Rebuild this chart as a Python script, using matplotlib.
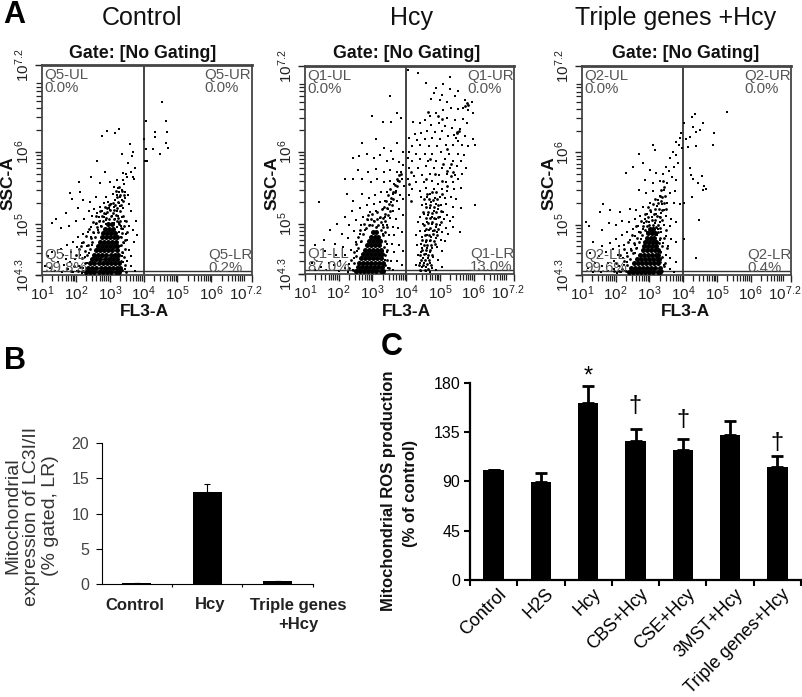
import matplotlib
matplotlib.use("Agg")
import matplotlib.pyplot as plt
import matplotlib.transforms as mtrans
import numpy as np

plt.rcParams['font.family'] = ['Liberation Sans', 'DejaVu Sans']
plt.rcParams['mathtext.default'] = 'regular'

W = 803
H = 697

# all scatter values are log10 (FL3-A, SSC-A)
# solid black part of each cloud, one row of x values per y value
ctrl_core_y = [4.34, 4.40, 4.46, 4.52, 4.58, 4.64, 4.70, 4.76, 4.82, 4.88, 4.94, 5.00]
ctrl_core_x = [[2.30,2.42,2.55,2.68,2.80,2.93,3.05,3.18,3.28],[2.36,2.48,2.60,2.73,2.86,2.98,3.10,3.22,3.30],
               [2.42,2.55,2.67,2.80,2.92,3.05,3.17,3.27],[2.47,2.60,2.72,2.85,2.97,3.10,3.22],
               [2.53,2.65,2.78,2.90,3.03,3.15,3.25],[2.60,2.72,2.84,2.96,3.08,3.20],
               [2.66,2.78,2.90,3.02,3.14,3.22],[2.72,2.84,2.96,3.08,3.18],[2.76,2.88,3.00,3.12,3.20],
               [2.80,2.92,3.04,3.16],[2.86,2.98,3.10],[2.94,3.06]]
hcy_core_y = [4.34, 4.40, 4.46, 4.52, 4.58, 4.64, 4.70, 4.76, 4.82, 4.88]
hcy_core_x = [[2.52,2.64,2.76,2.88,3.00,3.12,3.24,3.32],[2.56,2.68,2.80,2.92,3.04,3.16,3.28],
              [2.60,2.72,2.84,2.96,3.08,3.20,3.30],[2.66,2.78,2.90,3.02,3.14,3.26],
              [2.72,2.84,2.96,3.08,3.20,3.28],[2.78,2.90,3.02,3.14,3.24],[2.84,2.96,3.08,3.20],
              [2.90,3.02,3.14,3.22],[2.96,3.08,3.18],[3.02,3.12]]
tri_core_y = [4.34, 4.40, 4.46, 4.52, 4.58, 4.64, 4.70, 4.76, 4.82, 4.88, 4.94]
tri_core_x = [[2.40,2.52,2.64,2.76,2.88,3.00,3.12,3.24,3.32],[2.46,2.58,2.70,2.82,2.94,3.06,3.18,3.30],
              [2.54,2.66,2.78,2.90,3.02,3.14,3.26],[2.62,2.74,2.86,2.98,3.10,3.22,3.28],
              [2.72,2.84,2.96,3.08,3.20,3.26],[2.80,2.92,3.04,3.16,3.24],[2.84,2.96,3.08,3.20],
              [2.88,3.00,3.12,3.20],[2.92,3.04,3.14],[2.96,3.08,3.16],[3.02,3.12]]

# semi dense halo around the black part
ctrl_mid = [(2.22,4.35),(2.12,4.41),(2.26,4.47),(2.18,4.53),(2.33,4.57),(2.27,4.63),(2.41,4.66),(2.36,4.72),
            (2.49,4.75),(2.44,4.81),(2.57,4.83),(2.52,4.90),(2.66,4.89),(2.61,4.96),(2.73,4.98),(2.69,5.05),
            (2.81,5.04),(2.76,5.11),(2.88,5.09),(2.84,5.15),(2.97,5.08),(2.93,5.17),(3.05,5.12),(3.01,5.20),
            (3.13,5.07),(3.10,5.16),(3.20,5.04),(3.18,5.13),(3.27,5.00),(3.25,5.09),(3.33,4.95),(3.31,5.05),
            (3.38,5.12),(3.36,4.88),(3.42,4.98),(3.33,4.82),(3.40,4.76),(3.32,4.71),(3.44,4.66),(3.36,4.62),
            (3.41,4.55),(3.34,4.50),(3.44,4.44),(3.37,4.37),(3.48,4.34),(3.22,5.22),(3.29,5.18),(3.16,5.27),
            (3.24,5.31),(3.33,5.27),(3.40,5.32),(3.30,5.40),(3.20,5.38),(3.36,5.46),(3.43,5.40),(3.27,5.52),
            (3.09,5.30),(2.98,5.27),(2.86,5.24),(2.72,5.19),(2.60,5.12),(2.50,5.03),(2.40,4.93),(2.30,4.84),
            (2.20,4.76),(2.08,4.66),(2.00,4.57),(1.94,4.43),(2.05,4.35),(1.86,4.36),(2.60,5.02),(2.92,5.23),
            (3.14,5.20),(3.02,5.28),(3.18,5.46),(3.48,5.05),(3.50,4.90),(3.46,4.78),(2.14,4.70),(2.34,4.40)]
hcy_mid = [(2.42,4.35),(2.30,4.38),(2.44,4.45),(2.36,4.50),(2.52,4.55),(2.44,4.61),(2.58,4.66),(2.50,4.72),
           (2.66,4.76),(2.58,4.82),(2.72,4.86),(2.64,4.92),(2.80,4.94),(2.74,5.00),(2.90,4.98),(2.84,5.06),
           (3.00,4.98),(2.96,5.06),(3.10,4.96),(3.06,5.04),(3.18,4.98),(3.14,5.06),(3.26,4.92),(3.24,5.02),
           (3.32,4.84),(3.30,4.96),(3.36,4.76),(3.38,4.88),(3.34,4.68),(3.42,4.64),(3.36,4.56),(3.44,4.50),
           (3.38,4.42),(3.48,4.38),(3.22,5.10),(3.30,5.08),(3.38,5.04),(3.44,4.96),(3.36,5.14),(3.46,5.12),
           (3.42,5.22),(3.52,5.18),(3.48,5.28),(3.58,5.26),(3.54,5.36),(3.62,5.34),(3.60,5.44),(3.68,5.44),
           (3.66,5.54),(3.74,5.52),(3.72,5.62),(3.80,5.60),(3.78,5.68),(3.86,5.70),(3.40,5.32),(3.34,5.24),
           (3.46,5.40),(3.52,5.48),(3.28,5.20),(3.14,5.16),(3.00,5.14),(2.88,5.12),(4.42,4.35),(4.55,4.36),
           (4.64,4.37),(4.38,4.42),(4.50,4.43),(4.62,4.44),(4.74,4.42),(4.44,4.50),(4.56,4.50),(4.68,4.50),
           (4.42,4.57),(4.53,4.58),(4.66,4.57),(4.78,4.56),(4.48,4.64),(4.60,4.64),(4.72,4.63),(4.52,4.70),
           (4.63,4.71),(4.75,4.70),(4.86,4.72),(4.48,4.77),(4.60,4.78),(4.72,4.78),(4.84,4.76),(4.56,4.85),
           (4.68,4.85),(4.80,4.86),(4.92,4.84),(4.60,4.93),(4.72,4.94),(4.84,4.92),(4.96,4.93),(4.52,4.98),
           (4.66,5.01),(4.78,5.02),(4.90,5.00),(5.02,5.02),(4.58,5.08),(4.72,5.08),(4.84,5.08),(4.96,5.10),
           (4.50,5.16),(4.64,5.16),(4.76,5.15),(4.88,5.16),(5.04,5.18),(4.58,5.24),(4.72,5.26),(4.84,5.24),
           (4.96,5.26),(4.54,5.34),(4.68,5.34),(4.80,5.33),(4.92,5.34),(4.62,5.42),(4.76,5.44),(4.90,5.44),
           (5.06,5.42),(5.20,5.52),(5.05,5.60),(5.32,5.66),(5.22,5.74),(5.40,5.72),(5.34,5.84),(4.60,5.62),
           (4.85,5.70),(5.10,5.84),(4.72,5.90),(5.22,6.04),(5.52,6.28),(5.58,6.30),(5.50,6.26),(4.95,6.50),
           (5.05,6.46),(4.65,6.56),(5.75,6.64),(5.85,6.66),(5.80,6.68),(4.15,5.72),(4.08,5.56),(4.14,5.32)]
tri_mid = [(2.30,4.35),(2.20,4.39),(2.34,4.44),(2.26,4.49),(2.42,4.52),(2.34,4.57),(2.50,4.60),(2.44,4.65),
           (2.60,4.68),(2.54,4.74),(2.70,4.76),(2.64,4.82),(2.78,4.85),(2.72,4.90),(2.86,4.92),(2.80,4.98),
           (2.92,4.98),(2.90,5.05),(3.00,5.00),(2.96,5.10),(3.12,5.00),(3.08,5.07),(3.20,4.97),(3.17,5.06),
           (3.26,4.90),(3.25,5.00),(3.30,4.82),(3.32,4.95),(3.28,4.74),(3.36,4.70),(3.30,4.62),(3.38,4.55),
           (3.32,4.48),(3.42,4.42),(3.36,4.35),(3.46,4.47),(3.14,5.14),(3.22,5.12),(3.30,5.10),(3.38,5.06),
           (3.18,5.22),(3.28,5.22),(3.38,5.20),(3.24,5.30),(3.34,5.32),(3.42,5.30),(3.30,5.40),(3.38,5.38),
           (3.46,5.40),(3.34,5.48),(3.44,5.52),(3.40,5.60),(3.02,5.20),(2.88,5.15),(2.74,5.05),(2.60,4.98),
           (2.48,4.86),(2.36,4.76),(2.24,4.66),(2.14,4.58),(2.02,4.46),(1.96,4.36),(2.10,4.36),(3.48,4.92),
           (3.52,4.68),(3.44,4.82),(3.18,5.36),(3.10,5.28),(2.96,5.24),(3.50,5.22)]

ctrl_dots = [(4.55,6.69),(4.06,6.43),(4.65,6.43),(4.35,6.27),(4.69,6.28),(4.35,6.20),(4.00,6.18),(4.06,6.04),
             (4.28,6.04),(4.48,5.97),(4.73,6.05),(4.65,6.12),(4.09,5.87),(4.03,5.87),(2.93,6.29),(3.26,6.31),
             (3.15,6.26),(2.76,6.22),(3.60,6.11),(2.61,5.88),(3.65,5.94),(3.37,5.97),(3.69,6.00),(3.55,5.85),
             (3.62,5.72),(3.75,5.78),(3.48,5.70),(3.68,5.66),(2.85,5.72),(3.72,5.62),(2.10,5.59),(2.46,5.65),
             (1.83,5.43),(2.12,5.45),(1.88,5.35),(2.71,5.57),(3.00,5.59),(3.20,5.61),(3.40,5.71),(3.50,5.66),
             (3.25,5.50),(3.35,5.48),(3.55,5.41),(3.30,5.38),(3.15,5.34),(2.90,5.38),(2.60,5.38),(2.42,5.31),
             (2.22,5.34),(3.42,5.55),(3.38,5.61),(3.28,5.44),(3.22,5.40),(3.36,5.33),(3.46,5.36),(3.10,5.42),
             (3.05,5.28),(2.95,5.31),(2.82,5.29),(2.72,5.24),(2.55,5.21),(2.38,5.19),(2.05,5.22),(1.72,5.15),
             (1.40,5.08),(1.30,5.02),(1.55,4.95),(1.80,4.98),(2.00,5.05),(2.25,5.08),(2.48,5.12),(2.62,5.15),
             (2.78,5.18),(2.90,5.14),(3.02,5.20),(3.12,5.24),(3.22,5.18),(3.30,5.25),(3.40,5.22),(3.62,5.18),
             (3.78,5.05),(3.70,4.92),(3.80,4.85),(3.72,4.76),(3.58,4.98),(3.44,5.05),(3.35,5.10),(3.28,5.02),
             (3.38,4.94),(3.48,4.86),(3.34,4.82),(3.42,4.74),(3.56,4.64),(3.40,4.60),(3.50,4.50),(3.62,4.42),
             (3.46,4.38),(3.38,4.48),(3.75,4.36),(2.70,5.04),(2.58,5.00),(2.46,4.96),(2.36,4.90),(2.22,4.86),
             (2.06,4.82),(1.92,4.76),(1.74,4.72),(1.55,4.66),(1.30,4.62),(1.18,4.56),(1.62,4.58),(1.85,4.62),
             (2.02,4.68),(2.18,4.74),(2.32,4.70),(2.44,4.82),(2.55,4.88),(2.64,4.92),(2.74,4.97),(2.48,4.72),
             (2.38,4.60),(2.26,4.55),(2.12,4.58),(1.98,4.52),(1.82,4.48),(1.66,4.44),(1.48,4.48),(1.25,4.40),
             (1.10,4.42),(1.38,4.36),(1.58,4.34),(1.76,4.38),(1.92,4.34),(2.08,4.42),(2.22,4.40),(2.34,4.46),
             (2.04,4.36),(2.18,4.33),(2.30,4.35),(1.70,4.52),(2.90,5.06),(3.06,5.12),(2.98,5.22),(3.16,5.08),
             (3.24,5.12),(2.82,5.10),(2.68,5.10),(3.32,4.98),(3.26,4.90),(2.88,5.00),(3.14,5.02),(3.20,4.96),
             (3.52,4.78),(3.64,4.56),(3.30,4.70),(3.36,4.56),(3.58,5.28),(3.26,5.30),(3.12,5.52),(3.44,5.44)]

hcy_dots = [(4.05,7.15),(4.35,7.10),(5.30,7.05),(4.60,6.96),(5.10,6.95),(4.90,6.90),(5.30,6.88),(5.55,6.85),
            (4.82,6.82),(5.05,6.80),(5.45,6.78),(4.75,6.74),(5.00,6.72),(5.20,6.70),(5.75,6.72),(5.95,6.70),
            (5.70,6.62),(5.85,6.58),(5.55,6.60),(5.32,6.62),(5.10,6.58),(4.90,6.55),(4.70,6.50),(5.20,6.48),
            (5.45,6.45),(5.68,6.46),(5.98,6.55),(5.82,6.40),(4.55,6.45),(4.40,6.40),(4.20,6.42),(4.75,6.38),
            (4.98,6.40),(5.15,6.36),(5.35,6.34),(5.60,6.32),(5.05,6.30),(4.85,6.28),(4.62,6.30),(4.45,6.26),
            (4.25,6.25),(4.10,6.20),(4.32,6.17),(4.55,6.18),(4.78,6.20),(5.00,6.18),(5.25,6.22),(5.42,6.24),
            (5.48,6.20),(5.55,6.16),(5.75,6.22),(5.98,6.18),(6.05,6.10),(5.85,6.08),(5.65,6.10),(5.40,6.10),
            (5.18,6.10),(4.92,6.08),(4.68,6.08),(4.42,6.10),(4.18,6.08),(4.08,6.00),(4.30,5.98),(4.55,5.98),
            (4.78,5.98),(5.02,6.00),(5.28,5.98),(5.55,5.98),(5.72,5.96),(5.62,5.88),(5.40,5.88),(5.15,5.90),
            (4.90,5.88),(4.65,5.88),(4.40,5.90),(4.18,5.88),(4.05,5.92),(4.10,5.78),(4.35,5.78),(4.58,5.80),
            (4.82,5.78),(5.05,5.78),(5.30,5.78),(5.50,5.80),(5.78,5.78),(5.65,5.70),(5.45,5.68),(5.22,5.70),
            (4.98,5.68),(4.72,5.70),(4.48,5.68),(4.22,5.66),(4.06,5.62),(4.30,5.58),(4.52,5.58),(4.76,5.60),
            (4.95,5.56),(5.18,5.58),(5.38,5.58),(5.55,5.62),(5.62,5.50),(5.42,5.48),(5.22,5.46),(5.05,5.48),
            (4.82,5.48),(4.60,5.50),(4.40,5.46),(4.18,5.48),(4.10,5.40),(4.45,5.38),(4.62,5.38),(4.72,5.42),
            (4.85,5.36),(5.00,5.38),(5.15,5.36),(5.32,5.38),(5.48,5.34),(6.05,5.26),(5.62,5.22),(5.38,5.24),
            (5.18,5.28),(5.02,5.26),(4.88,5.28),(4.75,5.30),(4.60,5.28),(4.48,5.26),(4.70,5.22),(4.82,5.18),
            (4.95,5.20),(5.08,5.16),(5.22,5.12),(5.40,5.10),(5.30,5.04),(5.12,5.06),(5.00,5.10),(4.90,5.06),
            (4.78,5.10),(4.66,5.12),(4.52,5.14),(4.40,5.10),(4.34,5.02),(4.50,5.00),(4.62,5.02),(4.76,5.00),
            (4.88,4.96),(5.00,4.98),(5.18,4.94),(5.38,4.96),(5.60,4.88),(5.25,4.86),(5.05,4.88),(4.92,4.88),
            (4.80,4.90),(4.68,4.92),(4.56,4.90),(4.42,4.90),(4.30,4.84),(4.48,4.82),(4.62,4.84),(4.74,4.82),
            (4.88,4.80),(5.02,4.78),(5.15,4.76),(4.70,4.76),(4.58,4.74),(4.44,4.72),(4.32,4.70),(4.48,4.66),
            (4.62,4.66),(4.76,4.66),(4.92,4.68),(5.05,4.62),(4.72,4.60),(4.58,4.58),(4.44,4.60),(4.34,4.56),
            (4.50,4.52),(4.64,4.52),(4.80,4.54),(4.96,4.50),(4.70,4.46),(4.54,4.46),(4.40,4.46),(4.30,4.42),
            (4.46,4.40),(4.60,4.40),(4.76,4.38),(4.44,4.34),(4.58,4.34),(4.90,4.36),(4.72,4.33),(5.05,4.40),
            (3.52,6.78),(3.72,6.55),(3.85,6.48),(2.98,6.50),(3.30,6.42),(3.55,6.42),(2.68,6.12),(3.10,6.18),
            (3.35,6.05),(3.55,6.02),(3.72,6.12),(3.90,6.00),(2.42,5.92),(2.60,5.95),(2.85,5.98),(3.05,5.92),
            (3.22,5.96),(3.42,5.88),(3.60,5.90),(3.78,5.86),(3.92,5.82),(2.58,5.75),(2.88,5.72),(3.10,5.76),
            (3.34,5.72),(3.52,5.75),(3.72,5.72),(3.86,5.72),(2.20,5.62),(2.42,5.62),(2.70,5.62),(2.95,5.58),
            (3.15,5.62),(3.35,5.58),(3.52,5.60),(3.64,5.55),(3.76,5.60),(3.88,5.62),(3.95,5.52),(1.42,5.30),
            (2.25,5.42),(2.42,5.32),(2.70,5.42),(2.90,5.36),(3.08,5.40),(3.25,5.44),(3.42,5.45),(3.60,5.42),
            (3.70,5.46),(3.82,5.40),(3.92,5.34),(3.72,5.32),(3.55,5.30),(3.38,5.32),(3.22,5.30),(3.05,5.28),
            (2.85,5.26),(2.62,5.22),(2.40,5.18),(2.18,5.10),(1.95,5.00),(1.75,4.92),(1.55,4.78),(1.30,4.70),
            (1.60,4.62),(1.90,4.72),(2.10,4.86),(2.30,4.98),(2.50,5.05),(2.72,5.10),(2.92,5.16),(3.12,5.18),
            (3.30,5.20),(3.46,5.20),(3.62,5.18),(3.78,5.20),(3.90,5.12),(3.70,5.06),(3.52,5.08),(3.38,5.10),
            (3.22,5.08),(3.05,5.04),(2.86,5.05),(2.66,4.98),(2.46,4.90),(2.28,4.80),(2.12,4.68),(1.92,4.56),
            (1.72,4.46),(1.48,4.40),(1.22,4.46),(1.30,4.36),(1.62,4.36),(1.85,4.42),(2.05,4.48),(2.20,4.56),
            (2.36,4.64),(2.50,4.74),(2.62,4.86),(2.78,4.92),(2.94,4.98),(3.14,4.96),(3.30,4.98),(3.44,4.98),
            (3.60,4.96),(3.76,4.94),(3.88,4.88),(3.64,4.84),(3.48,4.84),(3.32,4.86),(3.26,4.78),(3.42,4.72),
            (3.58,4.72),(3.78,4.70),(3.92,4.62),(3.64,4.60),(3.44,4.60),(3.32,4.62),(3.38,4.50),(3.54,4.48),
            (3.72,4.48),(3.88,4.42),(3.46,4.38),(3.62,4.36),(2.00,4.34),(2.18,4.38),(2.32,4.44),(2.46,4.52),
            (2.54,4.62),(2.66,4.74),(2.42,4.36),(2.28,4.33)]

tri_dots = [(5.30,6.56),(4.34,6.53),(4.27,6.49),(4.60,6.41),(4.04,6.41),(4.29,6.35),(4.51,6.31),(4.39,6.29),
            (4.93,6.27),(4.19,6.21),(4.09,6.19),(4.88,6.11),(4.39,6.09),(4.14,6.08),(4.19,5.79),(4.24,5.69),
            (4.29,5.63),(4.55,5.67),(4.44,5.58),(4.63,5.54),(4.68,5.49),(4.58,5.48),(4.27,5.38),(4.02,5.30),
            (4.46,5.06),(4.04,4.80),(4.37,4.53),(3.95,6.27),(3.90,6.20),(3.78,6.15),(3.88,6.10),(3.96,6.06),
            (3.10,6.10),(3.18,6.04),(2.70,5.98),(3.70,6.00),(3.62,5.92),(3.78,5.96),(3.85,5.86),(3.50,5.80),
            (3.58,5.74),(3.72,5.80),(3.66,5.66),(3.80,5.62),(2.50,5.80),(2.32,5.72),(2.82,5.85),(3.02,5.76),
            (3.20,5.72),(3.40,5.70),(2.88,5.62),(3.10,5.58),(3.30,5.60),(3.52,5.58),(2.68,5.48),(2.90,5.44),
            (3.12,5.46),(3.30,5.40),(3.42,5.48),(3.60,5.44),(3.75,5.46),(3.90,5.28),(3.72,5.30),(3.52,5.30),
            (3.36,5.28),(3.22,5.26),(3.02,5.30),(2.82,5.25),(2.60,5.20),(2.42,5.22),(2.12,5.18),(1.62,5.28),
            (1.52,5.18),(1.82,5.20),(1.12,5.04),(1.20,4.98),(1.58,4.92),(1.80,5.02),(2.00,5.00),(2.20,5.05),
            (2.40,5.04),(2.56,5.08),(2.72,5.12),(2.92,5.14),(3.06,5.18),(3.20,5.14),(3.34,5.16),(3.48,5.12),
            (3.64,5.08),(3.80,5.04),(3.60,4.98),(3.44,5.00),(3.30,5.04),(3.18,5.02),(2.98,5.04),(2.84,5.02),
            (2.66,4.98),(2.50,4.94),(2.34,4.90),(2.18,4.86),(2.02,4.80),(1.82,4.74),(1.60,4.70),(1.32,4.76),
            (1.24,4.60),(1.50,4.56),(1.70,4.62),(1.92,4.66),(2.10,4.70),(2.26,4.72),(2.42,4.78),(2.56,4.84),
            (2.70,4.90),(2.82,4.94),(3.24,4.94),(3.34,4.90),(3.48,4.84),(3.64,4.80),(3.78,4.76),(3.56,4.70),
            (3.40,4.74),(3.30,4.78),(3.34,4.62),(3.48,4.58),(3.62,4.54),(3.80,4.48),(3.44,4.44),(3.60,4.38),
            (3.38,4.36),(3.72,4.34),(2.58,4.72),(2.46,4.66),(2.34,4.60),(2.22,4.54),(2.08,4.58),(1.94,4.50),
            (1.78,4.46),(1.60,4.42),(1.40,4.46),(1.18,4.40),(1.34,4.34),(1.56,4.34),(1.76,4.36),(1.94,4.38),
            (2.10,4.42),(2.24,4.44),(2.34,4.48),(2.16,4.34),(2.28,4.36),(2.04,4.33),(2.56,4.60),(2.64,4.68),
            (2.76,4.80),(2.92,4.90),(3.22,4.86),(3.30,5.10),(2.86,5.08),(3.08,5.10),(3.44,5.20),(3.26,5.34)]

panel_titles = ["Control", "Hcy", "Triple genes +Hcy"]
quadrant_prefix = ["Q5", "Q1", "Q2"]
quadrant_pct = [["0.0%", "0.0%", "99.8%", "0.2%"],
                ["0.0%", "0.0%", "87.0%", "13.0%"],
                ["0.0%", "0.0%", "99.6%", "0.4%"]]

b_labels = ["Control", "Hcy", "Triple genes\n+Hcy"]
b_values = [0.2, 13.0, 0.4]
b_err = [0.0, 1.2, 0.0]

c_labels = ["Control", "H2S", "Hcy", "CBS+Hcy", "CSE+Hcy", "3MST+Hcy", "Triple genes+Hcy"]
c_values = [100.0, 89.4, 161.8, 126.8, 118.6, 132.6, 103.4]
c_err = [0.5, 7.9, 15.2, 10.9, 10.4, 12.4, 9.4]
c_marks = ["", "", "*", "†", "†", "", "†"]
c_mark_y = [0, 0, 186, 159, 146, 0, 125]


def px_axes(fig, left, top, right, bottom):
    return fig.add_axes([left / W, 1 - bottom / H, (right - left) / W, (bottom - top) / H])


def px_text(fig, x, y, s, **kw):
    kw.setdefault('ha', 'center')
    kw.setdefault('va', 'center')
    fig.text(x / W, 1 - y / H, s, **kw)


def flow_panel(fig, box, core_y, core_x, mid, dots, prefix, pct):
    ax = px_axes(fig, *box)
    ax.set_xscale('log')
    ax.set_yscale('log')
    ax.set_xlim(10**1, 10**7.2)
    ax.set_ylim(10**4.3, 10**7.2)

    cx = np.concatenate(core_x)
    cy = np.repeat(core_y, [len(r) for r in core_x])
    mid = np.array(mid).T
    dots = np.array(dots).T
    ax.scatter(10**cx, 10**cy, s=13, c='black', linewidths=0, zorder=3)
    ax.scatter(10**mid[0], 10**mid[1], s=4, c='black', linewidths=0, zorder=3)
    ax.scatter(10**dots[0], 10**dots[1], s=1.4, c='black', marker='s', linewidths=0, zorder=3)

    ax.axvline(10**4, color='#222222', lw=1.2, zorder=2)
    ax.axhline(10**4.35, color='#333333', lw=1.0, zorder=2)

    for sp in ax.spines.values():
        sp.set_color('#444444')
        sp.set_linewidth(1.3)
    ax.spines['top'].set_linewidth(2.0)

    xt = [1, 2, 3, 4, 5, 6, 7.2]
    xl = ['$10^{1}$', '$10^{2}$', '$10^{3}$', '$10^{4}$', '$10^{5}$', '$10^{6}$', '$10^{7.2}$']
    yt = [4.3, 5, 6, 7.2]
    yl = ['$10^{4.3}$', '$10^{5}$', '$10^{6}$', '$10^{7.2}$']
    ax.set_xticks([10**v for v in xt])
    ax.set_xticklabels(xl, fontsize=11, color='#222222')
    ax.set_yticks([10**v for v in yt])
    ax.set_yticklabels(yl, fontsize=11, color='#222222', rotation=90, va='center')
    ax.xaxis.set_minor_locator(matplotlib.ticker.LogLocator(base=10, subs=np.arange(2, 10), numticks=12))
    ax.yaxis.set_minor_locator(matplotlib.ticker.LogLocator(base=10, subs=np.arange(2, 10), numticks=12))
    ax.xaxis.set_minor_formatter(matplotlib.ticker.NullFormatter())
    ax.yaxis.set_minor_formatter(matplotlib.ticker.NullFormatter())
    ax.tick_params(which='major', length=5, width=1.0, pad=2, color='#222222')
    ax.tick_params(which='minor', length=4.5, width=0.9, color='#222222')

    # the 10^7.2 label sits a little left of its tick in the original
    last = ax.get_xticklabels()[-1]
    last.set_transform(last.get_transform() + mtrans.ScaledTranslation(-6 / 100, 0, fig.dpi_scale_trans))

    gray = '#555555'
    ax.text(0.012, 0.952, prefix + '-UL', transform=ax.transAxes, fontsize=10.8, color=gray, va='center')
    ax.text(0.012, 0.889, pct[0], transform=ax.transAxes, fontsize=10.8, color=gray, va='center')
    ax.text(0.775, 0.952, prefix + '-UR', transform=ax.transAxes, fontsize=10.8, color=gray, va='center')
    ax.text(0.775, 0.889, pct[1], transform=ax.transAxes, fontsize=10.8, color=gray, va='center')
    ax.text(0.012, 0.095, prefix + '-LL', transform=ax.transAxes, fontsize=10.8, color=gray, va='center')
    ax.text(0.012, 0.032, pct[2], transform=ax.transAxes, fontsize=10.8, color=gray, va='center')
    ax.text(0.79, 0.095, prefix + '-LR', transform=ax.transAxes, fontsize=10.8, color=gray, va='center')
    ax.text(0.79, 0.032, pct[3], transform=ax.transAxes, fontsize=10.8, color=gray, va='center')
    return ax


fig = plt.figure(figsize=(W / 100, H / 100), dpi=100)

boxes = [(42, 65, 252, 275), (305, 66, 514, 274), (582, 66, 791, 275)]
title_x = [142, 412, 676]
gate_x = [143, 407, 686]
xlabel_x = [144, 406, 685]
ylabel_x = [8, 272, 549]
all_core_y = [ctrl_core_y, hcy_core_y, tri_core_y]
all_core_x = [ctrl_core_x, hcy_core_x, tri_core_x]
all_mid = [ctrl_mid, hcy_mid, tri_mid]
all_dots = [ctrl_dots, hcy_dots, tri_dots]

for i in range(3):
    flow_panel(fig, boxes[i], all_core_y[i], all_core_x[i], all_mid[i], all_dots[i],
               quadrant_prefix[i], quadrant_pct[i])
    px_text(fig, title_x[i], 18, panel_titles[i], fontsize=18, color='#111111')
    px_text(fig, gate_x[i], 54, 'Gate: [No Gating]', fontsize=12.8, fontweight='bold', color='#111111')
    px_text(fig, xlabel_x[i], 311, 'FL3-A', fontsize=12.5, fontweight='bold', color='#111111')
    px_text(fig, ylabel_x[i], 183, 'SSC-A', fontsize=12.5, fontweight='bold', rotation=90, color='#111111')

px_text(fig, 14, 15, 'A', fontsize=22, fontweight='bold')
px_text(fig, 15, 361, 'B', fontsize=22, fontweight='bold')
px_text(fig, 392, 347, 'C', fontsize=22, fontweight='bold')

# panel B
ax_b = px_axes(fig, 101.7, 442.7, 312.7, 584.3)
xb = np.arange(len(b_values))
ax_b.bar(xb, b_values, width=0.41, color='black')
ax_b.errorbar(xb, b_values, yerr=[[0] * 3, b_err], fmt='none', ecolor='black', elinewidth=0.8, capsize=2, capthick=0.8)
ax_b.set_xlim(-0.5, 2.5)
ax_b.set_ylim(0, 20)
ax_b.set_yticks([0, 5, 10, 15, 20])
ax_b.tick_params(axis='y', labelsize=11.5, labelcolor='#444444', length=4, width=0.8, pad=5)
ax_b.set_xticks([0.5, 1.5, 2.5])
ax_b.set_xticklabels([])
ax_b.tick_params(axis='x', length=2, width=0.8)
ax_b.spines['top'].set_visible(False)
ax_b.spines['right'].set_visible(False)
b_label_x = [135, 210, 298]
for i in range(3):
    px_text(fig, b_label_x[i], 615 if i == 2 else 605, b_labels[i], fontsize=12, fontweight='bold',
            color='#222222', linespacing=1.3)
px_text(fig, 32, 516, 'Mitochondrial\nexpression of LC3I/II\n(% gated, LR)', fontsize=14, rotation=90,
        color='#333333', linespacing=1.15)

# panel C
ax_c = px_axes(fig, 470, 382.7, 801, 580)
xc = np.arange(len(c_values))
ax_c.bar(xc, c_values, width=0.435, color='black')
ax_c.errorbar(xc, c_values, yerr=[[0] * 7, c_err], fmt='none', ecolor='black', elinewidth=2, capsize=4, capthick=2)
ax_c.set_xlim(-0.5, 6.5)
ax_c.set_ylim(0, 180)
ax_c.set_yticks([0, 45, 90, 135, 180])
ax_c.tick_params(axis='y', labelsize=11.5, length=4, width=1.5, pad=3)
ax_c.set_xticks(np.arange(-0.5, 7))
ax_c.set_xticklabels([])
ax_c.tick_params(axis='x', length=4, width=1.5)
ax_c.spines['top'].set_visible(False)
ax_c.spines['right'].set_visible(False)
ax_c.spines['left'].set_linewidth(1.6)
ax_c.spines['bottom'].set_linewidth(1.6)
for i in range(7):
    ax_c.annotate(c_labels[i], (xc[i], 0), xytext=(3, -4), textcoords='offset points', ha='right', va='top',
                  rotation=45, rotation_mode='anchor', fontsize=13, annotation_clip=False)
    if c_marks[i]:
        ax_c.text(xc[i], c_mark_y[i], c_marks[i], ha='center', va='center', fontsize=17, clip_on=False)
px_text(fig, 389, 491, 'Mitochondrial ROS production', fontsize=12, fontweight='bold', rotation=90, color='#111111')
px_text(fig, 411, 493, '(% of control)', fontsize=12, fontweight='bold', rotation=90, color='#111111')

fig.savefig('out.png', dpi=100)
